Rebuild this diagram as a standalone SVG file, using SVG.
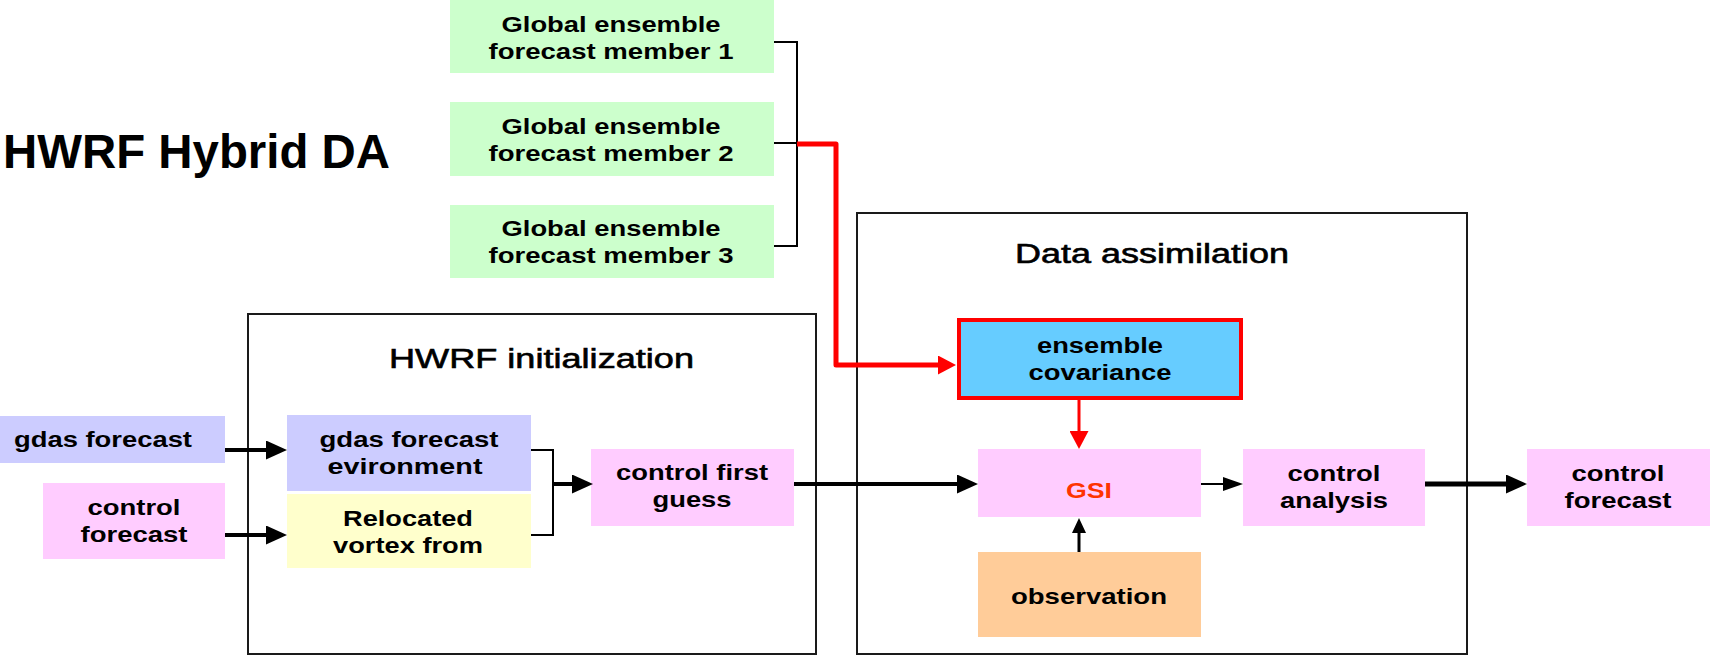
<svg xmlns="http://www.w3.org/2000/svg" width="1710" height="662" viewBox="0 0 1710 662">
<style>
.t{font-family:"Liberation Sans",Arial,sans-serif;font-weight:bold;font-size:22px;text-anchor:middle;fill:#000}
.h{font-family:"Liberation Sans",Arial,sans-serif;font-size:27px;fill:#000;stroke:#000;stroke-width:0.6}
.ttl{font-family:"Liberation Sans",Arial,sans-serif;font-weight:bold;font-size:48px;fill:#000}
.cont{fill:#fff;stroke:#1a1a1a;stroke-width:2}
.green{fill:#ccffcc}
.lav{fill:#ccccff}
.pink{fill:#ffccff}
.yel{fill:#ffffcc}
.peach{fill:#ffcc99}
.blue{fill:#66ccff;stroke:#ff0000;stroke-width:4}
.k{fill:none;stroke:#000}
.r{fill:none;stroke:#ff0000}
</style>
<defs>
<marker id="mBlk" markerUnits="userSpaceOnUse" viewBox="0 0 21 19" markerWidth="21" markerHeight="19" refX="4" refY="9.5" orient="auto"><path d="M0,0 L21,9.5 L0,19 z" fill="#000"/></marker>
<marker id="mThin" markerUnits="userSpaceOnUse" viewBox="0 0 20 14" markerWidth="20" markerHeight="14" refX="3" refY="7" orient="auto"><path d="M0,0 L20,7 L0,14 z" fill="#000"/></marker>
<marker id="mSmall" markerUnits="userSpaceOnUse" viewBox="0 0 15 14" markerWidth="15" markerHeight="14" refX="3" refY="7" orient="auto"><path d="M0,0 L15,7 L0,14 z" fill="#000"/></marker>
<marker id="mRed" markerUnits="userSpaceOnUse" viewBox="0 0 18 19" markerWidth="18" markerHeight="19" refX="3" refY="9.5" orient="auto"><path d="M0,0 L18,9.5 L0,19 z" fill="#ff0000"/></marker>
</defs>
<rect width="1710" height="662" fill="#fff"/>

<text class="ttl" x="3" y="168" textLength="387" lengthAdjust="spacingAndGlyphs">HWRF Hybrid DA</text>

<g id="hwrf-init">
<rect class="cont" x="248" y="314" width="568" height="340"/>
<text class="h" x="389" y="368" textLength="305" lengthAdjust="spacingAndGlyphs">HWRF initialization</text>
</g>
<g id="data-assimilation">
<rect class="cont" x="857" y="213" width="610" height="441"/>
<text class="h" x="1015" y="263" textLength="274" lengthAdjust="spacingAndGlyphs">Data assimilation</text>
</g>

<g id="member1">
<rect class="green" x="450" y="-2" width="324" height="75"/>
<text class="t" x="611" y="32" textLength="219" lengthAdjust="spacingAndGlyphs">Global ensemble</text>
<text class="t" x="611" y="59" textLength="245" lengthAdjust="spacingAndGlyphs">forecast member 1</text>
</g>
<g id="member2">
<rect class="green" x="450" y="102" width="324" height="74"/>
<text class="t" x="611" y="134" textLength="219" lengthAdjust="spacingAndGlyphs">Global ensemble</text>
<text class="t" x="611" y="161" textLength="245" lengthAdjust="spacingAndGlyphs">forecast member 2</text>
</g>
<g id="member3">
<rect class="green" x="450" y="205" width="324" height="73"/>
<text class="t" x="611" y="236" textLength="219" lengthAdjust="spacingAndGlyphs">Global ensemble</text>
<text class="t" x="611" y="263" textLength="245" lengthAdjust="spacingAndGlyphs">forecast member 3</text>
</g>

<g id="gdas-forecast">
<rect class="lav" x="0" y="416" width="225" height="47"/>
<text class="t" x="103" y="447" textLength="178" lengthAdjust="spacingAndGlyphs">gdas forecast</text>
</g>
<g id="control-forecast-in">
<rect class="pink" x="43" y="483" width="182" height="76"/>
<text class="t" x="134" y="515" textLength="93" lengthAdjust="spacingAndGlyphs">control</text>
<text class="t" x="134" y="542" textLength="107" lengthAdjust="spacingAndGlyphs">forecast</text>
</g>
<g id="gdas-env">
<rect class="lav" x="287" y="415" width="244" height="76"/>
<text class="t" x="409" y="447" textLength="179" lengthAdjust="spacingAndGlyphs">gdas forecast</text>
<text class="t" x="405" y="474" textLength="155" lengthAdjust="spacingAndGlyphs">evironment</text>
</g>
<g id="relocated-vortex">
<rect class="yel" x="287" y="494" width="244" height="74"/>
<text class="t" x="408" y="526" textLength="130" lengthAdjust="spacingAndGlyphs">Relocated</text>
<text class="t" x="408" y="553" textLength="150" lengthAdjust="spacingAndGlyphs">vortex from</text>
</g>
<g id="control-first-guess">
<rect class="pink" x="591" y="449" width="203" height="77"/>
<text class="t" x="692" y="480" textLength="152" lengthAdjust="spacingAndGlyphs">control first</text>
<text class="t" x="692" y="507" textLength="79" lengthAdjust="spacingAndGlyphs">guess</text>
</g>
<g id="ensemble-covariance">
<rect class="blue" x="959" y="320" width="282" height="78"/>
<text class="t" x="1100" y="353" textLength="126" lengthAdjust="spacingAndGlyphs">ensemble</text>
<text class="t" x="1100" y="380" textLength="143" lengthAdjust="spacingAndGlyphs">covariance</text>
</g>
<g id="gsi">
<rect class="pink" x="978" y="449" width="223" height="68"/>
<text class="t" x="1089" y="498" textLength="46" lengthAdjust="spacingAndGlyphs" style="fill:#ff3300">GSI</text>
</g>
<g id="observation">
<rect class="peach" x="978" y="552" width="223" height="85"/>
<text class="t" x="1089" y="604" textLength="156" lengthAdjust="spacingAndGlyphs">observation</text>
</g>
<g id="control-analysis">
<rect class="pink" x="1243" y="449" width="182" height="77"/>
<text class="t" x="1334" y="481" textLength="93" lengthAdjust="spacingAndGlyphs">control</text>
<text class="t" x="1334" y="508" textLength="108" lengthAdjust="spacingAndGlyphs">analysis</text>
</g>
<g id="control-forecast-out">
<rect class="pink" x="1527" y="449" width="183" height="77"/>
<text class="t" x="1618" y="481" textLength="93" lengthAdjust="spacingAndGlyphs">control</text>
<text class="t" x="1618" y="508" textLength="107" lengthAdjust="spacingAndGlyphs">forecast</text>
</g>

<g id="connectors">
<path class="k" stroke-width="2" d="M774,42 H797 V246 H774 M774,143 H797"/>
<path class="r" stroke-width="5" stroke-linejoin="round" d="M797,144 H836 V365 H941" marker-end="url(#mRed)"/>
<path class="r" stroke-width="3" d="M1079,400 V434" marker-end="url(#mRed)"/>
<path class="k" stroke-width="4" d="M225,450 H270" marker-end="url(#mBlk)"/>
<path class="k" stroke-width="4" d="M225,535 H270" marker-end="url(#mBlk)"/>
<path class="k" stroke-width="2" d="M531,450 H553 V535 H531"/>
<path class="k" stroke-width="4" d="M553,484 H576" marker-end="url(#mBlk)"/>
<path class="k" stroke-width="4" d="M794,484 H961" marker-end="url(#mBlk)"/>
<path class="k" stroke-width="2" d="M1201,484 H1226" marker-end="url(#mThin)"/>
<path class="k" stroke-width="5" d="M1425,484 H1510" marker-end="url(#mBlk)"/>
<path class="k" stroke-width="3" d="M1079,552 V530" marker-end="url(#mSmall)"/>
</g>
</svg>
